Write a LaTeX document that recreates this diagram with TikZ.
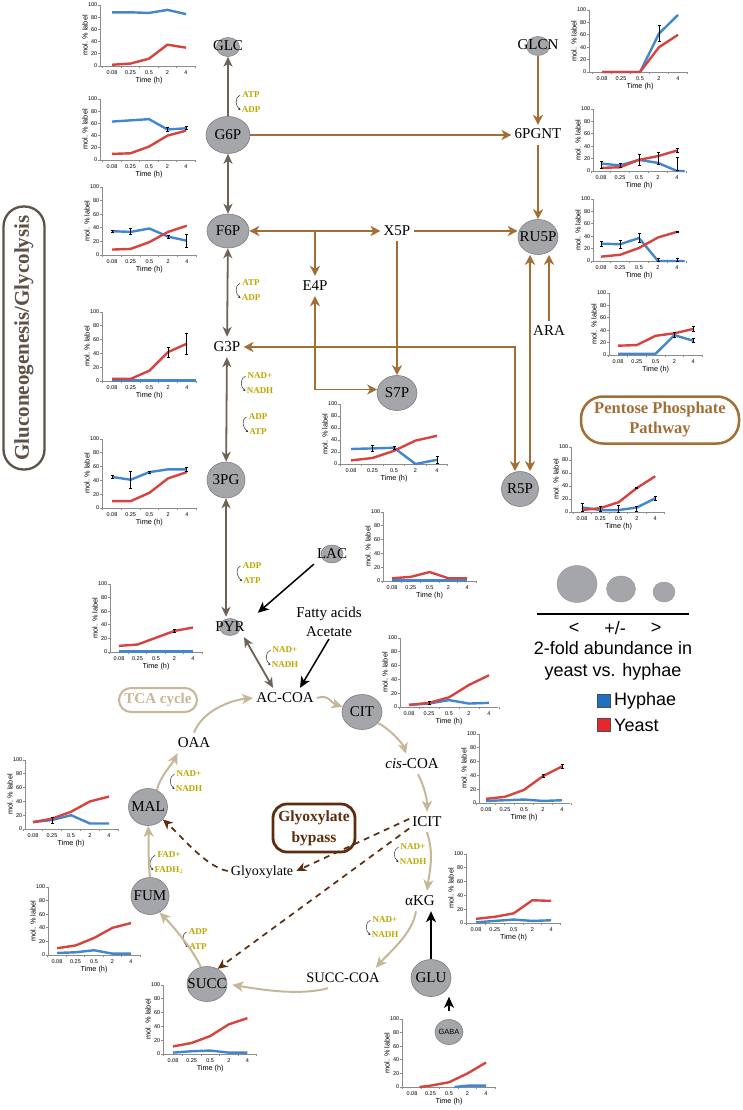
\documentclass[tikz,border=0pt]{standalone}
\usepackage{fontspec}
\setmainfont{Liberation Serif}
\newfontfamily\arialf{Liberation Sans}
\usetikzlibrary{arrows.meta,shapes.geometric}

\definecolor{bub}{RGB}{165,166,170}
\definecolor{bubd}{RGB}{125,125,130}
\definecolor{glyc}{RGB}{110,98,86}
\definecolor{pppc}{RGB}{163,110,53}
\definecolor{tcac}{RGB}{199,183,152}
\definecolor{glxc}{RGB}{92,46,14}
\definecolor{cofc}{RGB}{190,168,0}
\definecolor{hyb}{RGB}{66,135,205}
\definecolor{yer}{RGB}{214,68,64}
\definecolor{axc}{RGB}{140,140,140}
\definecolor{legb}{RGB}{30,112,192}
\definecolor{legr}{RGB}{232,38,43}
\definecolor{gboxc}{RGB}{94,82,70}

\tikzset{
  met/.style={inner sep=3pt, text height=11pt, text depth=3pt, font=\fontsize{15}{17}\selectfont},
  bubble/.style={ellipse, fill=bub, draw=bubd, line width=0.6pt, inner sep=0pt, font=\fontsize{15}{17}\selectfont},
  smallbub/.style={ellipse, fill=bub, draw=bubd, line width=0.5pt, inner sep=0pt, minimum width=#1, minimum height=#1-4pt},
  cf/.style={inner sep=0.5pt, text=cofc, font=\bfseries\fontsize{9}{10}\selectfont},
  cfa/.style={draw=black!80, line width=0.5pt, -{Stealth[length=2.5pt,width=2.5pt]}},
  axl/.style={draw=axc, line width=0.7pt},
  tk/.style={inner sep=0.4pt, font=\arialf\fontsize{5.5}{6}\selectfont},
  tlab/.style={inner sep=0pt, font=\arialf\fontsize{7.3}{8}\selectfont},
  hyl/.style={draw=hyb, line width=2.4pt, line join=round},
  yel/.style={draw=yer, line width=2.4pt, line join=round},
  ebs/.style={draw=black, line width=0.9pt, {Bar[width=3pt]}-{Bar[width=3pt]}},
  glyA/.style={draw=glyc, line width=1.8pt, -{Stealth[length=10pt,width=9pt,inset=3pt]}},
  glyD/.style={draw=glyc, line width=1.8pt, {Stealth[length=10pt,width=9pt,inset=3pt]}-{Stealth[length=10pt,width=9pt,inset=3pt]}},
  pppA/.style={draw=pppc, line width=1.6pt, -{Stealth[length=10pt,width=10pt,inset=3pt]}},
  pppD/.style={draw=pppc, line width=1.6pt, {Stealth[length=10pt,width=10pt,inset=3pt]}-{Stealth[length=10pt,width=10pt,inset=3pt]}},
  blkA/.style={draw=black, line width=1.5pt, -{Stealth[length=11pt,width=10pt,inset=3pt]}},
  tcaA/.style={draw=tcac, line width=2pt, -{Stealth[length=11pt,width=10pt,inset=3pt]}},
  gxA/.style={draw=glxc, line width=1.7pt, dash pattern=on 6pt off 5pt, -{Stealth[length=10pt,width=9pt,inset=3pt]}},
  legt/.style={inner sep=1pt, font=\arialf\fontsize{18}{22}\selectfont},
}

% #1 axis x, #2 zero y, #3 height of 100, #4 first point x, #5 spacing, #6 axis end x, #7 blue, #8 red, #9 extras
\newcommand\mchart[9]{%
\begin{scope}[shift={(#1,#2)}]
  \draw[axl] (0,-#3) -- (0,0) -- (#6-#1,0);
  \foreach \v in {0,20,40,60,80,100}{%
    \draw[axl] (-1.8,{-\v*#3/100}) -- (0,{-\v*#3/100});
    \node[tk,anchor=east] at (-2.2,{-\v*#3/100}) {\v};}
  \foreach \k/\tlb in {0/0.08,1/0.25,2/0.5,3/2,4/4}{%
    \node[tk] at ({#4-#1+\k*#5},7) {\tlb};}
  \foreach \k in {0,...,5}{\draw[axl] ({#4-#1+(\k-0.5)*#5},0) -- ++(0,1.6);}
  \node[tlab] at ({#4-#1+2*#5},15) {Time (h)};
  \node[tlab,rotate=90] at (-15,{-#3/2}) {mol. \% label};
\end{scope}
\begin{scope}[shift={(#4,#2)},x=#5pt,y=#3pt/100]
  \draw[hyl] plot coordinates {#7};
  \draw[yel] plot coordinates {#8};
  #9
\end{scope}}
\newcommand\ebar[3]{\draw[ebs] (#1,#2-#3) -- (#1,#2+#3);}

% cofactor pair: name, x, y, top, bottom
\newcommand\cofac[5]{%
  \node[cf] (#1t) at (#2,#3) {#4};
  \node[cf] (#1b) at (#2,#3+15) {#5};
  \draw[cfa] ([xshift=-1.5pt]#1t.west) .. controls +(-6,3) and +(-5,-4) .. ([xshift=-0.5pt]#1b.west);}

\begin{document}
\begin{tikzpicture}[x=1pt,y=-1pt]
\path[use as bounding box, fill=white] (0,0) rectangle (743,1110);

% ---------------- charts ----------------
\mchart{100}{66}{61}{112}{18.5}{196}{(0,88) (1,88) (2,87) (3,92) (4,85)}{(0,2) (1,4) (2,12) (3,35) (4,30)}{}
\mchart{100}{160}{61}{112}{18.5}{196}{(0,63) (1,65) (2,67) (3,50) (4,52)}{(0,10) (1,11) (2,22) (3,40) (4,48)}{\ebar{3}{50}{4}\ebar{4}{52}{3}}
\mchart{102}{255}{68}{112}{18.7}{197}{(0,35) (1,34) (2,39) (3,27) (4,21)}{(0,8) (1,9) (2,19) (3,34) (4,43)}{\ebar{0}{35}{2}\ebar{1}{34}{5}\ebar{3}{27}{3}\ebar{4}{21}{10}}
\mchart{102}{381}{69}{112}{18.7}{197}{(0,1) (1,1) (2,1) (3,1) (4,1) (4.5,1)}{(0,3) (1,3) (2,15) (3,42) (4,54)}{\ebar{3}{42}{8}\ebar{4}{54}{16}}
\mchart{102}{508}{69}{112}{18.7}{197}{(0,45) (1,41) (2,52) (3,56) (4,56)}{(0,10) (1,10) (2,22) (3,43) (4,52)}{\ebar{0}{45}{3}\ebar{1}{41}{13}\ebar{2}{52}{2}\ebar{4}{56}{3}}
\mchart{110}{652}{68}{119}{18.5}{203}{(0,1) (1,1) (2,1) (3,1) (4,1)}{(0,9) (1,11) (2,21) (3,31) (4,36)}{\ebar{3}{31}{3}}
\mchart{25}{829}{69}{33}{19}{118}{(0,10) (1,13) (2,20) (3,8) (4,8)}{(0,10) (1,15) (2,25) (3,40) (4,47)}{\ebar{1}{13}{5}}
\mchart{48}{955}{68}{57}{18.5}{140}{(0,3) (1,4) (2,7) (3,2) (4,2)}{(0,10) (1,14) (2,25) (3,40) (4,47)}{}
\mchart{163}{1054}{69}{173}{18.6}{257}{(0,2) (1,4) (2,5) (3,2) (4,2)}{(0,11) (1,16) (2,26) (3,43) (4,52)}{}
\mchart{402}{1087}{68}{412}{18.5}{495}{(2.3,0) (3,2) (4,2)}{(0.4,0) (1,2) (2,7) (3,20) (4,36)}{}
\mchart{466}{923}{69}{476}{18.8}{560}{(0,1) (1,3) (2,5) (3,3) (4,4)}{(0,6) (1,9) (2,14) (3,33) (4,32)}{}
\mchart{479}{803}{69}{486}{19}{570}{(0,3) (1,4) (2,5) (3,3) (4,4)}{(0,6) (1,9) (2,19) (3,39) (4,53)}{\ebar{3}{39}{3}\ebar{4}{53}{3}}
\mchart{400}{707}{69}{409}{20}{498}{(0,3) (1,5) (2,10) (3,5) (4,6)}{(0,3) (1,6) (2,14) (3,32) (4,46)}{\ebar{1}{6}{3}}
\mchart{383}{581}{69}{392}{18.8}{477}{(0,1) (1,1) (2,1) (3,1) (4,1)}{(0,4) (1,6) (2,13) (3,4) (4,4)}{}
\mchart{340}{464}{60}{351}{21.5}{447}{(0,25) (1,26) (2,27) (3,0) (4,7)}{(0,6) (1,10) (2,22) (3,39) (4,47)}{\ebar{1}{26}{5}\ebar{2}{27}{3}\ebar{4}{7}{7}}
\mchart{571}{512}{65}{582}{18.3}{665}{(0,7) (1,3) (2,3) (3,7) (4,21)}{(0,3) (1,6) (2,15) (3,37) (4,55)}{\ebar{0}{7}{7}\ebar{1}{5}{5}\ebar{2}{5}{6}\ebar{3}{5}{5}\ebar{4}{21}{4}\ebar{3}{37}{2}}
\mchart{609}{355}{62}{618}{18.8}{702}{(0,2) (1,2) (2,2) (3,32) (4,23)}{(0,15) (1,16) (2,31) (3,35) (4,42)}{\ebar{3}{32}{5}\ebar{4}{23}{4}\ebar{4}{42}{4}}
\mchart{593}{261}{62}{601}{19}{685}{(0,28) (1,27) (2,37) (3,0) (4,0) (4.4,0)}{(0,7) (1,10) (2,21) (3,38) (4,47)}{\ebar{0}{28}{5}\ebar{1}{27}{7}\ebar{2}{37}{8}\ebar{3}{2}{3}\ebar{4}{2}{3}\ebar{4}{47}{2}}
\mchart{593}{171}{62}{601}{19}{685}{(0,12) (1,9) (2,18) (3,13) (4,0) (4.4,0)}{(0,5) (1,6) (2,18) (3,24) (4,33)}{\ebar{0}{10}{6}\ebar{1}{9}{4}\ebar{2}{18}{9}\ebar{3}{20}{10}\ebar{4}{33}{4}\ebar{4}{11}{11}}
\mchart{589}{72}{62}{602}{19}{687}{(0,0) (1,0) (2,0) (3,62) (4,92)}{(0,0) (1,0) (2,0) (3,40) (4,60)}{\ebar{3}{62}{14}}

% ---------------- pathway boxes ----------------
\node[draw=gboxc, line width=2.3pt, rounded corners=20pt, rotate=90, minimum width=263pt, minimum height=41pt, inner sep=0pt, text=gboxc, font=\bfseries\fontsize{21}{24}\selectfont] (gbox) at (24,338) {Gluconeogenesis/Glycolysis};
\node[draw=pppc, line width=2.5pt, rounded corners=22pt, minimum width=158pt, minimum height=47pt, inner sep=0pt, text=pppc, align=center, font=\bfseries\fontsize{16.5}{20}\selectfont] (pbox) at (660,420) {Pentose Phosphate\\Pathway};
\node[draw=tcac, line width=2pt, rounded corners=12pt, minimum width=78pt, minimum height=24pt, inner sep=0pt, text=tcac, font=\bfseries\fontsize{15}{17}\selectfont] (tbox) at (158,700) {TCA cycle};
\node[draw=glxc, line width=2.8pt, rounded corners=14pt, minimum width=82pt, minimum height=48pt, inner sep=0pt, text=glxc, align=center, font=\bfseries\fontsize{15.5}{21}\selectfont] (xbox) at (314,828) {Glyoxylate\\bypass};

% ---------------- metabolites ----------------
\node[smallbub=23pt, label={[met,name=GLC]center:GLC}] (GLCb) at (228,47) {};
\node[smallbub=23pt, label={[met,name=GLCN]center:GLCN}] (GLCNb) at (538,46) {};
\node[smallbub=21pt, label={[met,name=PYR]center:PYR}] (PYRb) at (230,627) {};
\node[smallbub=22pt, label={[met,name=LAC]center:LAC}] (LACb) at (332,554) {};

\node[bubble, minimum width=44pt, minimum height=37pt] (G6P) at (228,135) {\makebox[0pt]{G6P}};
\node[bubble, minimum width=42pt, minimum height=34pt] (F6P) at (228,231) {\makebox[0pt]{F6P}};
\node[met] (G3P) at (227,347) {G3P};
\node[bubble, minimum width=38pt, minimum height=36pt] (n3PG) at (226,480) {\makebox[0pt]{3PG}};
\node[met] (ACCOA) at (285,698) {AC-COA};
\node[inner sep=2pt, align=center, font=\fontsize{15}{19}\selectfont] (Fatty) at (329,622) {Fatty acids\\Acetate};
\node[bubble, minimum width=40pt, minimum height=35pt] (CIT) at (362,712) {\makebox[0pt]{CIT}};
\node[met] (cisCOA) at (412,764) {\textit{cis}-COA};
\node[met] (ICIT) at (427,822) {ICIT};
\node[met] (aKG) at (420,901) {αKG};
\node[bubble, minimum width=40pt, minimum height=37pt] (GLU) at (431,978) {\makebox[0pt]{GLU}};
\node[bubble, minimum width=28pt, minimum height=25pt, font=\arialf\fontsize{7.5}{8}\selectfont] (GABA) at (449,1032) {\makebox[0pt]{GABA}};
\node[met, font=\fontsize{14.5}{17}\selectfont] (SUCCCOA) at (343,978) {SUCC-COA};
\node[bubble, minimum width=40pt, minimum height=35pt] (SUCC) at (207,984) {\makebox[0pt]{SUCC}};
\node[bubble, minimum width=38pt, minimum height=37pt] (FUM) at (150,896) {\makebox[0pt]{FUM}};
\node[bubble, minimum width=39pt, minimum height=37pt] (MAL) at (148,807) {\makebox[0pt]{MAL}};
\node[met] (OAA) at (194,743) {OAA};
\node[met, font=\fontsize{14}{16}\selectfont] (Glyox) at (262,871) {Glyoxylate};

\node[met] (n6PGNT) at (538,135) {6PGNT};
\node[bubble, minimum width=40pt, minimum height=35pt] (RU5P) at (538,237) {\makebox[0pt]{RU5P}};
\node[met] (ARA) at (549,331) {ARA};
\node[bubble, minimum width=37pt, minimum height=35pt] (R5P) at (520,489) {\makebox[0pt]{R5P}};
\node[met] (X5P) at (397,231) {X5P};
\node[met] (E4P) at (315,286) {E4P};
\node[bubble, minimum width=40pt, minimum height=35pt] (S7P) at (397,393) {\makebox[0pt]{S7P}};

% ---------------- cofactors ----------------
\cofac{ca}{251}{95}{ATP}{ADP}
\cofac{cb}{251}{283}{ATP}{ADP}
\cofac{cc}{260}{376}{NAD+}{NADH}
\cofac{cd}{258}{417}{ADP}{ATP}
\cofac{ce}{252}{566}{ADP}{ATP}
\cofac{cf}{285}{650}{NAD+}{NADH}
\cofac{cg}{189}{774}{NAD+}{NADH}
\cofac{ch}{169}{855}{FAD+}{FADH$_2$}
\cofac{ci}{198}{932}{ADP}{ATP}
\cofac{cj}{413}{847}{NAD+}{NADH}
\cofac{ck}{385}{920}{NAD+}{NADH}

% ---------------- glycolysis arrows ----------------
\draw[glyA] (G6P) -- (GLCb);
\draw[glyD] (G6P) -- (F6P);
\draw[glyD] (F6P) -- (G3P);
\draw[glyD] (G3P) -- (n3PG);
\draw[glyD] (n3PG.south) -- (n3PG.south |- PYR.north);
\draw[glyD] ([xshift=14pt]PYR.south) -- ([xshift=-12pt]ACCOA.north);
\draw[blkA] (LAC.south west) -- ([xshift=10pt,yshift=4pt]PYR.north east);
\draw[blkA] (Fatty.south) -- ([xshift=15pt]ACCOA.north);

% ---------------- TCA arrows ----------------
\draw[tcaA] (ACCOA.east) .. controls +(12,-4) and +(-12,-4) .. (CIT.165);
\draw[tcaA] (CIT.-35) .. controls +(10,4) and +(-3,-10) .. ([xshift=-6pt]cisCOA.north);
\draw[tcaA] ([xshift=6pt]cisCOA.south) .. controls +(6,12) and +(0,-14) .. (ICIT.north);
\draw[tcaA] (ICIT.south) .. controls +(7,22) and +(3,-22) .. ([xshift=7pt]aKG.north);
\draw[tcaA] ([xshift=-4pt]aKG.south) .. controls +(-3,22) and +(12,-14) .. ([xshift=-7pt]SUCCCOA.north east);
\draw[tcaA, shorten >=5pt] ([xshift=-15pt]SUCCCOA.south) .. controls +(-30,8) and +(30,5) .. (SUCC.east);
\draw[tcaA] (SUCC.110) .. controls +(-8,-18) and +(12,12) .. (FUM.-60);
\draw[tcaA] (FUM.north) .. controls +(-2,-16) and +(1,16) .. (MAL.south);
\draw[tcaA] (MAL.62) .. controls +(3,-14) and +(-6,12) .. ([xshift=3pt]OAA.south west);
\draw[tcaA] (OAA.north) .. controls +(8,-22) and +(-22,2) .. (ACCOA.west);

% ---------------- glyoxylate bypass ----------------
\draw[gxA] (ICIT.170) -- (Glyox.east);
\draw[gxA] (ICIT.200) -- (SUCC.55);
\draw[gxA] (Glyox.west) .. controls +(-22,-4) and +(16,14) .. (MAL.-40);

% ---------------- pentose phosphate ----------------
\draw[pppA] (G6P) -- (n6PGNT);
\draw[pppA] (n6PGNT.north |- GLCN.south) -- (n6PGNT.north);
\draw[pppA] (n6PGNT) -- (RU5P);
\draw[pppD] (F6P) -- (X5P);
\draw[pppA] (X5P.east) -- (X5P.east -| RU5P.west);
\draw[pppA] (E4P.north |- F6P.east) -- (E4P.north);
\draw[pppD] (E4P.south) |- (S7P.170);
\draw[pppA] (X5P.south) -- (S7P.north);
\draw[pppD] (G3P.east) -| ([xshift=-5pt]R5P.north);
\draw[pppD] ([xshift=10pt]R5P.north) -- ([xshift=10pt]R5P.north |- RU5P.south);
\draw[pppA] (ARA.north) -- (ARA.north |- RU5P.south);

% ---------------- GLU / GABA ----------------
\draw[blkA] (GLU.north) -- (GLU.north |- aKG.south);
\draw[blkA, shorten <=8pt] (GABA.north) -- (GABA.north |- GLU.south);

% ---------------- legend ----------------
\node[ellipse, fill=bub, draw=bub!90!black, line width=0.4pt, minimum width=40pt, minimum height=37pt, inner sep=0pt] (lg1) at (577,584) {};
\node[ellipse, fill=bub, draw=bub!90!black, line width=0.4pt, minimum width=29pt, minimum height=26pt, inner sep=0pt] (lg2) at (621,589) {};
\node[ellipse, fill=bub, draw=bub!90!black, line width=0.4pt, minimum width=22pt, minimum height=20pt, inner sep=0pt] (lg3) at (664,592) {};
\draw[black, line width=1.2pt] (537,614) -- (689,614);
\node[legt] (ls1) at (574,628) {<};
\node[legt] (ls2) at (615,628) {+/-};
\node[legt] (ls3) at (656,628) {>};
\node[legt, align=center] (lgtxt) at (613,661) {2-fold abundance in\\ yeast vs. hyphae};
\node[draw=black!70, fill=legb, minimum size=13pt, inner sep=0pt, line width=0.6pt] (sqb) at (604,701) {};
\node[draw=black!70, fill=legr, minimum size=13pt, inner sep=0pt, line width=0.6pt] (sqr) at (604,725) {};
\node[legt, anchor=west] (lh) at (613,701) {Hyphae};
\node[legt, anchor=west] (ly) at (613,725) {Yeast};
\end{tikzpicture}
\end{document}
